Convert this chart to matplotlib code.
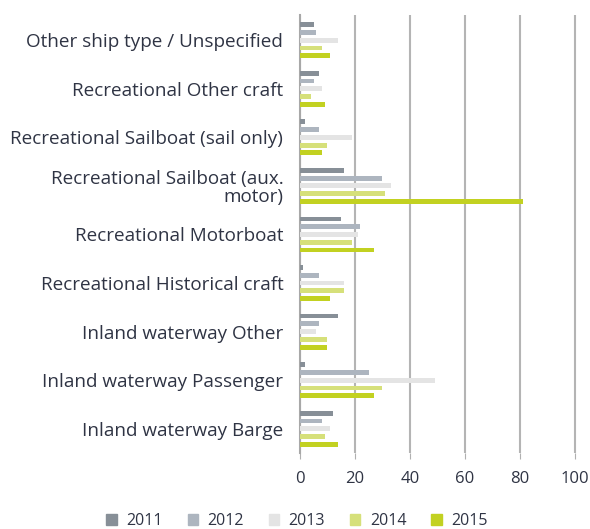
import matplotlib
matplotlib.use("Agg")
import matplotlib.pyplot as plt
import numpy as np
from matplotlib.patches import Patch

categories = [
    "Other ship type / Unspecified",
    "Recreational Other craft",
    "Recreational Sailboat (sail only)",
    "Recreational Sailboat (aux.\nmotor)",
    "Recreational Motorboat",
    "Recreational Historical craft",
    "Inland waterway Other",
    "Inland waterway Passenger",
    "Inland waterway Barge",
]
years = ["2011", "2012", "2013", "2014", "2015"]
v2011 = [5, 7, 2, 16, 15, 1, 14, 2, 12]
v2012 = [6, 5, 7, 30, 22, 7, 7, 25, 8]
v2013 = [14, 8, 19, 33, 21, 16, 6, 49, 11]
v2014 = [8, 4, 10, 31, 19, 16, 10, 30, 9]
v2015 = [11, 9, 8, 81, 27, 11, 10, 27, 14]
series = [v2011, v2012, v2013, v2014, v2015]
colors = ["#878f97", "#adb5bf", "#e4e4e4", "#d6e07a", "#c2d121"]
xticks = [0, 20, 40, 60, 80, 100]

plt.rcParams['font.family'] = ['Open Sans', 'DejaVu Sans']
text_color = "#2f3444"

fig = plt.figure(figsize=(5.90, 5.29), dpi=100)
ax = fig.add_axes([300/590, 1-453/529, 290/590, (453-15)/529])

y = np.arange(len(categories))
pitch = 0.16
h = 0.10
for i, (vals, c) in enumerate(zip(series, colors)):
    ax.barh(y + (i - 2) * pitch, vals, height=h, color=c, label=years[i], zorder=3)

ax.set_ylim(len(categories) - 0.5, -0.52)
ax.set_xlim(0, 105.5)
ax.set_yticks(y)
ax.set_yticklabels(categories, fontsize=13.6, color=text_color, ha='right',
                   linespacing=1.0)
ax.tick_params(axis='y', length=0, pad=12)
ax.set_xticks(xticks)
ax.set_xticklabels([str(t) for t in xticks], fontsize=12, color=text_color)
ax.tick_params(axis='x', length=4, color="#b0b0b0", pad=9)
ax.grid(axis='x', color="#b4b4b4", linewidth=1.5, zorder=0)
for s in ["top", "right", "bottom"]:
    ax.spines[s].set_visible(False)
ax.spines["left"].set_color("#a8a8a8")
ax.spines["left"].set_linewidth(1.5)

handles = [Patch(color=c, label=yv) for c, yv in zip(colors, years)]
fig.legend(handles=handles, loc="center", bbox_to_anchor=(297/590, 1-521/529), ncol=5,
           frameon=False, fontsize=11.5, handlelength=0.65, handleheight=0.65,
           columnspacing=1.55, handletextpad=0.6, labelcolor=text_color)

fig.savefig("out.png", dpi=100)
